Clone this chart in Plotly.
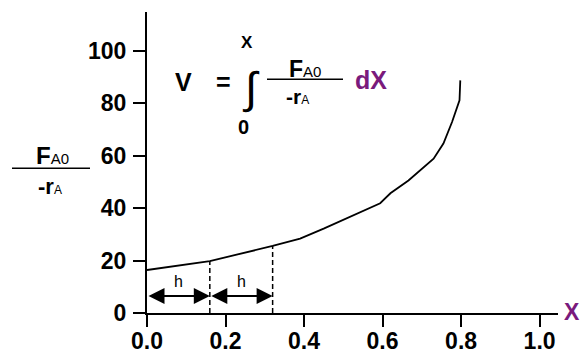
import plotly.graph_objects as go

# Conversion X and the integrand F_A0 / -r_A along the curve
conversion = [0.0, 0.16, 0.32, 0.39, 0.45, 0.535, 0.594, 0.62, 0.666, 0.73, 0.755, 0.777, 0.79, 0.796, 0.798]
fa0_over_ra = [16.4, 19.8, 25.6, 28.4, 32.2, 37.9, 41.9, 45.7, 50.6, 58.9, 64.7, 72.9, 78.6, 81.2, 88.8]

# Step edges of width h and the curve value where each dashed line stops
h_edges = [0.0, 0.16, 0.32]
h_edge_values = [16.4, 19.8, 25.6]
h_arrow_level = 6.5

x_ticks = [0.0, 0.2, 0.4, 0.6, 0.8, 1.0]
x_tick_text = ["0.0", "0.2", "0.4", "0.6", "0.8", "1.0"]
y_ticks = [0, 20, 40, 60, 80, 100]
y_tick_text = ["0", "20", "40", "60", "80", "100"]

W, H = 582, 353
ML, MR, MT, MB = 147, 24, 12, 40
PW, PH = W - ML - MR, H - MT - MB

FONT = "Arial, Liberation Sans, sans-serif"
PURPLE = "#7a1a7c"


def px(x):
    return (x - ML) / PW


def py(y):
    return (H - MB - y) / PH


fig = go.Figure()

fig.add_trace(go.Scatter(
    x=conversion, y=fa0_over_ra, mode="lines",
    line=dict(color="black", width=1.8), hoverinfo="skip", showlegend=False,
))

# dashed verticals from the axis up to the curve
for xe, ye in zip(h_edges[1:], h_edge_values[1:]):
    fig.add_trace(go.Scatter(
        x=[xe, xe], y=[0, ye], mode="lines",
        line=dict(color="black", width=1.5, dash="5px,3px"),
        hoverinfo="skip", showlegend=False,
    ))

annotations = []

# double-headed h arrows
for a, b in zip(h_edges[:-1], h_edges[1:]):
    annotations.append(dict(
        x=b, y=h_arrow_level, ax=a, ay=h_arrow_level,
        xref="x", yref="y", axref="x", ayref="y",
        showarrow=True, arrowhead=2, startarrowhead=2, arrowside="end+start",
        arrowsize=1.6, startarrowsize=1.6, arrowwidth=2, arrowcolor="black",
        standoff=0, startstandoff=0, text="",
    ))
    annotations.append(dict(
        x=(a + b) / 2, y=h_arrow_level, xref="x", yref="y",
        text="h", showarrow=False, yshift=14,
        font=dict(family=FONT, size=16, color="black"),
    ))


def label(text, x, y, size, color="black", bold=True, xanchor="center"):
    annotations.append(dict(
        x=px(x), y=py(y), xref="paper", yref="paper", text=text,
        showarrow=False, xanchor=xanchor, yanchor="middle",
        font=dict(family=FONT, size=size, color=color,
                  weight="bold" if bold else "normal"),
    ))


# y-axis title as a fraction
label("F<span style='font-weight:normal;font-size:15px'>A0</span>", 52, 155, 24)
label("-r<span style='font-weight:normal;font-size:12px'>A</span>", 50, 186, 22)

# x-axis title
label("X", 582, 312, 23, color=PURPLE, xanchor="right")

# V = integral formula
label("V", 183, 82, 25)
label("=", 223, 82, 25)
label("∫", 251, 88, 44, bold=False)
label("X", 247, 42, 17)
label("0", 243, 127, 20)
label("F<span style='font-weight:normal;font-size:15px'>A0</span>", 305, 69, 23)
label("-r<span style='font-weight:normal;font-size:12px'>A</span>", 297, 96, 21)
label("dX", 371, 80, 25, color=PURPLE)

shapes = [
    dict(type="line", xref="paper", yref="paper",
         x0=px(12), x1=px(90), y0=py(168.3), y1=py(168.3),
         line=dict(color="black", width=1.6)),
    dict(type="line", xref="paper", yref="paper",
         x0=px(267), x1=px(343), y0=py(79.3), y1=py(79.3),
         line=dict(color="black", width=1.4)),
]

axis_common = dict(
    showline=True, linecolor="black", linewidth=2,
    ticks="outside", ticklen=12, tickwidth=2, tickcolor="black",
    showgrid=False, zeroline=False, automargin=False,
    tickfont=dict(family=FONT, size=23, color="black", weight="bold"),
)

fig.update_layout(
    width=W, height=H,
    margin=dict(l=ML, r=MR, t=MT, b=MB, pad=0, autoexpand=False),
    paper_bgcolor="white", plot_bgcolor="white",
    xaxis=dict(range=[0, PW / 392.6], tickvals=x_ticks, ticktext=x_tick_text,
               ticklabelstandoff=-6, **axis_common),
    yaxis=dict(range=[0, PH / 2.62], tickvals=y_ticks, ticktext=y_tick_text,
               ticklabelstandoff=2, **axis_common),
    annotations=annotations, shapes=shapes,
    showlegend=False,
)

fig.write_html("out.html")
